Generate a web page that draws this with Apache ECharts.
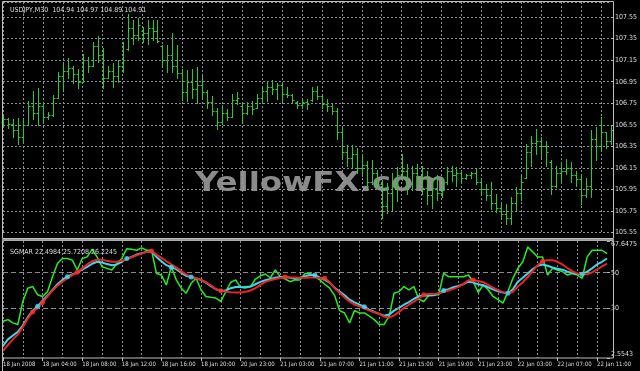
<!DOCTYPE html>
<html><head><meta charset="utf-8">
<script src="https://cdn.jsdelivr.net/npm/echarts@6/dist/echarts.min.js"></script>
<style>html,body{margin:0;padding:0;background:#000;}#c{width:640px;height:371px;}</style>
</head><body><div id="c"></div>
<script>
// ---- data ----
const tickLabels = ['18 Jan 2008','18 Jan 04:00','18 Jan 08:00','18 Jan 12:00','18 Jan 16:00','18 Jan 20:00',
  '20 Jan 23:00','21 Jan 03:00','21 Jan 07:00','21 Jan 11:00','21 Jan 15:00','21 Jan 19:00',
  '21 Jan 23:00','22 Jan 03:00','22 Jan 07:00','22 Jan 11:00'];
const opens = [106.58,106.60,106.56,106.50,106.44,106.55,106.72,106.66,106.72,106.62,106.64,106.80,107.00,107.05,107.08,107.02,106.95,107.15,107.10,107.28,
 107.20,106.98,107.05,107.00,107.10,107.25,107.45,107.38,107.42,107.40,107.45,107.42,107.28,107.15,107.20,107.10,107.03,106.85,106.95,106.88,
 106.92,106.85,106.76,106.68,106.58,106.66,106.62,106.78,106.72,106.66,106.72,106.71,106.80,106.86,106.90,106.88,106.92,106.84,106.83,106.76,
 106.73,106.76,106.78,106.86,106.82,106.74,106.72,106.68,106.48,106.30,106.24,106.28,106.15,106.18,106.02,106.10,106.00,105.80,105.92,105.98,
 106.08,106.12,106.00,106.10,106.05,105.96,105.90,105.96,105.92,106.02,106.12,106.08,106.10,106.06,106.08,106.10,106.02,105.95,105.90,105.82,
 105.78,105.72,105.68,105.82,105.92,106.06,106.30,106.38,106.40,106.35,106.20,105.98,106.10,106.12,106.15,106.08,106.05,105.90,105.98,106.42,
 106.35,106.48,106.40];
const highs = [106.63,106.61,106.60,106.61,106.60,106.77,106.86,106.89,106.75,106.67,106.83,107.04,107.12,107.17,107.10,107.07,107.21,107.18,107.32,107.37,
 107.26,107.10,107.12,107.15,107.32,107.58,107.52,107.54,107.46,107.52,107.52,107.52,107.29,107.29,107.40,107.29,107.07,107.06,107.07,107.09,
 107.00,106.87,106.82,106.71,106.73,106.70,106.84,106.85,106.76,106.76,106.77,106.84,106.90,106.96,106.97,106.94,106.93,106.90,106.84,106.77,
 106.79,106.79,106.90,106.91,106.82,106.79,106.74,106.71,106.53,106.36,106.36,106.33,106.28,106.21,106.22,106.13,106.04,106.01,106.10,106.16,
 106.28,106.19,106.17,106.19,106.17,106.12,106.06,106.08,106.06,106.16,106.17,106.16,106.12,106.09,106.11,106.14,106.06,106.00,106.02,105.91,
 105.81,105.81,105.88,105.97,106.08,106.37,106.45,106.51,106.44,106.40,106.22,106.17,106.20,106.23,106.20,106.12,106.09,106.06,106.50,106.53,
 106.62,106.48,106.54];
const lows = [106.54,106.52,106.44,106.37,106.40,106.55,106.60,106.55,106.58,106.60,106.63,106.80,106.87,106.98,106.94,106.89,106.95,107.04,107.10,107.13,
 106.89,106.98,106.90,106.95,107.04,107.24,107.30,107.34,107.32,107.30,107.34,107.32,107.10,107.04,107.04,106.98,106.78,106.77,106.80,106.75,
 106.80,106.71,106.64,106.51,106.56,106.59,106.62,106.74,106.57,106.65,106.65,106.71,106.76,106.77,106.84,106.79,106.77,106.81,106.76,106.71,
 106.71,106.70,106.77,106.79,106.71,106.68,106.65,106.42,106.24,106.17,106.16,106.10,106.07,105.97,106.00,105.96,105.68,105.73,105.76,105.84,
 106.04,105.91,105.94,105.97,105.91,105.81,105.78,105.85,105.88,106.00,106.03,105.98,106.02,106.05,106.06,106.00,105.91,105.85,105.77,105.74,
 105.69,105.63,105.63,105.75,105.85,106.06,106.17,106.28,106.25,106.17,105.91,105.97,106.03,106.09,106.02,105.98,105.81,105.88,105.88,106.22,
 106.31,106.33,106.37];
const closes = [106.60,106.56,106.50,106.44,106.55,106.72,106.66,106.72,106.62,106.64,106.80,107.00,107.05,107.08,107.02,106.95,107.15,107.10,107.28,107.20,
 106.98,107.05,107.00,107.10,107.15,107.45,107.38,107.48,107.40,107.45,107.42,107.33,107.15,107.20,107.10,107.03,106.85,106.95,106.88,106.92,
 106.85,106.76,106.68,106.58,106.66,106.62,106.78,106.80,106.66,106.72,106.70,106.80,106.86,106.90,106.88,106.92,106.84,106.83,106.78,106.73,
 106.76,106.74,106.86,106.82,106.74,106.72,106.68,106.48,106.30,106.24,106.28,106.15,106.18,106.02,106.10,106.00,105.80,105.92,105.98,106.08,
 106.12,106.00,106.10,106.05,105.96,105.90,105.96,105.92,105.95,106.12,106.08,106.10,106.06,106.08,106.10,106.02,105.95,105.90,105.82,105.78,
 105.72,105.68,105.82,105.92,106.02,106.30,106.38,106.40,106.35,106.30,105.98,106.10,106.12,106.15,106.08,106.05,105.90,105.98,106.42,106.35,
 106.48,106.40,106.50];
const fastLine = [23.0,23.9,22.1,21.2,34.0,41.4,42.3,37.7,36.8,39.5,47.8,55.1,57.9,57.9,57.0,51.5,57.9,58.8,63.0,58.8,
 53.3,52.4,51.5,55.1,57.9,63.4,63.0,62.5,63.8,62.5,62.5,49.6,48.7,43.2,53.3,46.0,41.4,38.6,44.1,46.9,
 40.5,36.8,36.3,35.9,34.0,39.5,44.7,46.0,41.7,42.3,42.3,46.5,48.3,49.3,47.2,51.5,47.8,46.5,45.0,46.0,
 46.0,49.6,49.6,47.8,46.0,43.6,41.4,37.3,28.9,27.6,22.1,28.9,27.6,27.6,25.8,23.9,21.2,21.2,25.8,38.6,
 39.5,42.3,40.5,42.3,35.3,34.0,37.3,37.7,37.7,49.6,47.8,47.8,47.8,47.8,48.7,45.0,39.0,43.2,40.5,36.8,
 35.0,33.1,39.5,46.9,52.4,56.1,64.3,61.6,58.8,58.8,48.7,52.4,51.5,50.6,48.7,49.6,48.7,46.9,58.8,62.5,
 62.5,62.5,60.6];
const midLine = [9.3,12.9,15.1,17.2,20.6,25.2,28.9,31.3,34.4,37.3,40.5,43.6,46.0,47.8,49.1,50.2,51.8,53.3,55.0,56.1,
 55.7,54.8,54.2,54.6,56.1,57.9,58.8,60.1,60.8,61.6,61.9,58.8,56.4,54.2,53.1,52.0,50.0,48.3,47.6,46.9,
 46.0,44.5,42.5,40.8,39.9,40.1,41.4,42.1,42.1,41.7,42.3,43.6,44.9,45.8,46.5,47.2,47.6,47.8,47.2,46.7,
 47.2,48.0,48.7,48.7,47.2,46.0,44.5,41.6,39.5,37.5,35.0,33.5,32.2,31.1,29.4,28.2,27.1,26.1,26.7,28.9,
 30.4,32.2,33.7,35.5,36.9,37.5,37.3,37.5,38.4,40.1,40.8,41.9,42.7,43.6,45.0,44.5,43.6,43.0,41.9,40.8,
 39.7,39.0,38.6,40.8,45.0,47.2,49.6,52.0,53.9,54.6,53.9,52.9,52.2,51.7,50.6,49.8,49.3,49.1,50.6,52.4,
 54.6,56.1,57.9];
const slowLine = [6.5,9.8,12.9,15.7,19.7,24.5,28.2,30.4,33.5,36.8,40.1,42.7,45.0,46.9,48.7,50.2,52.4,54.6,56.4,57.2,
 57.2,56.6,56.1,56.1,56.6,57.5,58.6,59.7,60.6,61.6,62.1,60.1,58.3,56.4,54.6,52.8,50.9,49.1,47.8,46.9,
 46.0,44.7,43.0,40.8,39.9,39.5,39.2,39.0,39.0,39.4,40.1,41.4,43.2,44.9,45.8,46.5,47.1,47.6,47.4,47.4,
 47.2,47.2,47.4,47.4,47.1,46.9,44.7,41.4,38.8,36.2,34.0,32.2,31.3,30.2,28.9,28.0,27.1,25.6,25.0,26.3,
 28.2,30.4,32.2,33.9,35.7,37.7,38.1,38.1,38.6,39.2,40.1,41.0,42.1,43.8,45.8,46.0,45.4,44.7,43.2,41.7,
 40.3,39.2,38.6,39.4,42.3,44.7,47.6,50.9,54.2,56.4,57.0,57.0,56.1,54.6,52.6,50.9,49.6,49.1,49.1,50.2,
 51.8,53.5,55.1];
const redMarks = [[6,28.2],[8,33.5],[15,50.2],[30,62.1],[44,39.9],[57,47.6],[65,46.9],[85,37.7],[95,46.0],[109,56.4]];
const cyanMarks = [[7,31.3],[13,47.8],[25,57.9],[34,53.1],[38,47.6],[63,48.7],[73,31.1],[89,40.1],[102,38.6],[117,49.1]];
const levels = [50, 30];
const oscLabels = [2.5543, 30, 50, 67.6475];
const priceTitle = 'USDJPY,M30  104.94 104.97 104.89 104.91';
const oscTitle = 'SGMAR 22.4984 25.7208 26.2245';

// ---- build categories (bar times) ----
function pad(n){ return (n < 10 ? '0' : '') + n; }
const categories = [];
for (let i = 0; i < opens.length; i++) {
  let day, mins;
  if (i < 48) { day = 18; mins = i * 30; }
  else { const t = 23 * 60 + (i - 48) * 30; day = 20 + Math.floor(t / 1440); mins = t % 1440; }
  categories.push(day + ' Jan ' + pad(Math.floor(mins / 60)) + ':' + pad(mins % 60));
}
const ohlcData = opens.map((o, i) => [i, o, highs[i], lows[i], closes[i]]);

const FONT = "'Liberation Sans Narrow','DejaVu Sans Condensed','Liberation Sans',sans-serif";
const TXT = '#dcdcdc';
const GRIDC = '#8a9098';
const BAR = '#26cc26';

const chart = echarts.init(document.getElementById('c'), null, {renderer: 'canvas'});
chart.setOption({
  animation: false,
  backgroundColor: '#000',
  title: [
    {text: priceTitle, left: 5, top: 2, textStyle: {color: TXT, fontSize: 7, fontWeight: 'normal', fontFamily: FONT}},
    {text: oscTitle, left: 5, top: 244, textStyle: {color: TXT, fontSize: 7, fontWeight: 'normal', fontFamily: FONT}}
  ],
  grid: [
    {left: 3, right: 27, top: 2, height: 230.5},
    {left: 3, right: 27, top: 241, height: 117}
  ],
  xAxis: [
    {type: 'category', gridIndex: 0, data: categories, boundaryGap: false,
     axisLine: {show: false}, axisTick: {show: false}, axisLabel: {show: false},
     splitLine: {show: true, interval: 3, lineStyle: {color: GRIDC, type: [2, 2], width: 1}}},
    {type: 'category', gridIndex: 1, data: categories, boundaryGap: false,
     axisLine: {show: false},
     axisTick: {show: true, interval: 7, length: 3, lineStyle: {color: '#b0b0b0'}},
     axisLabel: {show: true, interval: 7, align: 'left', margin: 3, color: TXT, fontSize: 6, fontFamily: FONT,
       formatter: function (v) { const k = categories.indexOf(v); return tickLabels[k / 8] || ''; }},
     splitLine: {show: true, interval: 3, lineStyle: {color: GRIDC, type: [2, 2], width: 1}}}
  ],
  yAxis: [
    {type: 'value', gridIndex: 0, position: 'right', min: 105.55, max: 107.69, interval: 0.2,
     axisLine: {show: false},
     axisTick: {show: true, length: 3, lineStyle: {color: '#b0b0b0'}},
     axisLabel: {color: TXT, fontSize: 7, fontFamily: FONT, margin: 4, showMaxLabel: false,
       formatter: function (v) { return v.toFixed(2); }},
     splitLine: {show: true, lineStyle: {color: GRIDC, type: [2, 2], width: 1}}},
    {type: 'value', gridIndex: 1, position: 'right', min: 2.5543, max: 67.6475,
     axisLine: {show: false},
     axisTick: {show: true, length: 3, customValues: oscLabels, lineStyle: {color: '#b0b0b0'}},
     axisLabel: {color: TXT, fontSize: 7, fontFamily: FONT, margin: 4, customValues: oscLabels,
       verticalAlignMaxLabel: 'top', verticalAlignMinLabel: 'bottom',
       formatter: function (v) { return String(v); }},
     splitLine: {show: false}}
  ],
  graphic: [
    {type: 'text', x: 195, y: 184, scaleX: 1.25, z: 1, silent: true,
     style: {text: 'YellowFX.com', fill: '#9a9a9a', font: 'bold 26px "DejaVu Sans", sans-serif', verticalAlign: 'middle', opacity: 0.9}},
    {type: 'rect', z: 100, silent: true, shape: {x: 2.5, y: 1.5, width: 611, height: 237}, style: {fill: null, stroke: '#bdbdbd', lineWidth: 1}},
    {type: 'rect', z: 100, silent: true, shape: {x: 2.5, y: 240.5, width: 611, height: 117.5}, style: {fill: null, stroke: '#bdbdbd', lineWidth: 1}},
    {type: 'rect', z: 100, silent: true, shape: {x: 2, y: 239, width: 612, height: 1.5}, style: {fill: '#9a9a9a'}},
    {type: 'line', z: 100, silent: true, shape: {x1: 2.5, y1: 358, x2: 2.5, y2: 371}, style: {stroke: '#bdbdbd', lineWidth: 1}}
  ],
  series: [
    {type: 'custom', xAxisIndex: 0, yAxisIndex: 0, data: ohlcData, silent: true, z: 3,
     encode: {x: 0, y: [1, 2, 3, 4]},
     renderItem: function (params, api) {
       const i = api.value(0);
       const o = api.coord([i, api.value(1)]);
       const h = api.coord([i, api.value(2)]);
       const l = api.coord([i, api.value(3)]);
       const c = api.coord([i, api.value(4)]);
       const x = Math.round(h[0]) + 0.5;
       const st = {stroke: BAR, lineWidth: 1};
       const oy = Math.round(o[1]) + 0.5, cy = Math.round(c[1]) + 0.5;
       return {type: 'group', children: [
         {type: 'line', shape: {x1: x, y1: Math.round(h[1]), x2: x, y2: Math.round(l[1]) + 1}, style: st},
         {type: 'line', shape: {x1: x - 2, y1: oy, x2: x, y2: oy}, style: st},
         {type: 'line', shape: {x1: x, y1: cy, x2: x + 2, y2: cy}, style: st}
       ]};
     }},
    {type: 'line', xAxisIndex: 1, yAxisIndex: 1, data: fastLine, showSymbol: false, silent: true, z: 3,
     lineStyle: {color: '#22ee22', width: 1.5},
     markLine: {silent: true, symbol: ['none', 'none'], label: {show: false},
       lineStyle: {color: '#8a8a8a', type: [5, 3], width: 1},
       data: levels.map(v => ({yAxis: v}))}},
    {type: 'line', xAxisIndex: 1, yAxisIndex: 1, data: midLine, showSymbol: false, silent: true, z: 4,
     lineStyle: {color: '#3cd8f2', width: 2}},
    {type: 'line', xAxisIndex: 1, yAxisIndex: 1, data: slowLine, showSymbol: false, silent: true, z: 5,
     lineStyle: {color: '#ee2222', width: 2}},
    {type: 'scatter', xAxisIndex: 1, yAxisIndex: 1, data: redMarks, symbol: 'circle', symbolSize: 5, silent: true, z: 6,
     itemStyle: {color: '#ff3030'}},
    {type: 'scatter', xAxisIndex: 1, yAxisIndex: 1, data: cyanMarks, symbol: 'circle', symbolSize: 5, silent: true, z: 6,
     itemStyle: {color: '#40d8f8'}}
  ]
});
</script></body></html>
